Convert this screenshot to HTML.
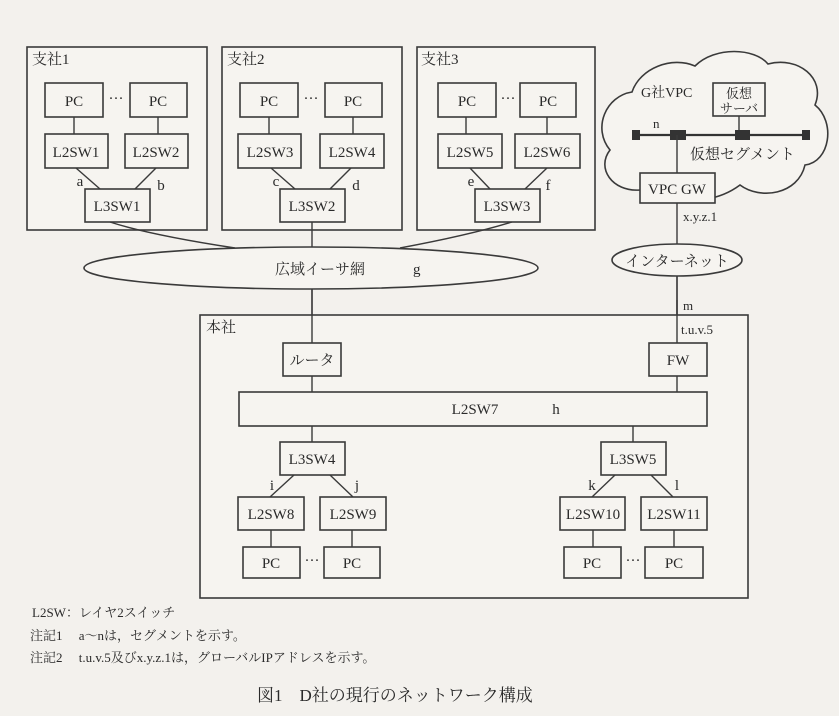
<!DOCTYPE html>
<html><head><meta charset="utf-8"><style>
html,body{margin:0;padding:0;background:#f3f1ed;}
svg{display:block}
text{font-family:"Liberation Serif","Noto Serif CJK SC","Noto Sans CJK JP",serif;fill:#2a2a2a;}
.b{fill:#f6f4f0;stroke:#3a3a3a;stroke-width:1.6}
.l{stroke:#3a3a3a;stroke-width:1.4;fill:none}
</style></head><body>
<svg width="839" height="716" viewBox="0 0 839 716" xmlns="http://www.w3.org/2000/svg">
<rect width="839" height="716" fill="#f3f1ed"/>
<g font-size="15">
<rect class="b" x="27" y="47" width="180" height="183"/>
<rect class="b" x="222" y="47" width="180" height="183"/>
<rect class="b" x="417" y="47" width="178" height="183"/>
<text x="32" y="64">支社1</text><text x="227" y="64">支社2</text><text x="421" y="64">支社3</text>
</g>
<g font-size="15" text-anchor="middle">
<line class="l" x1="74" y1="117" x2="74" y2="134"/><line class="l" x1="158" y1="117" x2="158" y2="134"/>
<line class="l" x1="76" y1="168" x2="100" y2="189"/><line class="l" x1="156" y1="168" x2="135" y2="189"/>
<rect class="b" x="45" y="83" width="58" height="34"/><text x="74" y="106">PC</text>
<rect class="b" x="130" y="83" width="57" height="34"/><text x="158" y="106">PC</text>
<text x="116" y="103">···</text>
<rect class="b" x="45" y="134" width="63" height="34"/><text x="76" y="157">L2SW1</text>
<rect class="b" x="125" y="134" width="63" height="34"/><text x="156" y="157">L2SW2</text>
<rect class="b" x="85" y="189" width="65" height="33"/><text x="117" y="211">L3SW1</text>
<text x="80" y="186">a</text><text x="161" y="190">b</text>
<line class="l" x1="269" y1="117" x2="269" y2="134"/><line class="l" x1="353" y1="117" x2="353" y2="134"/>
<line class="l" x1="271" y1="168" x2="295" y2="189"/><line class="l" x1="351" y1="168" x2="330" y2="189"/>
<rect class="b" x="240" y="83" width="58" height="34"/><text x="269" y="106">PC</text>
<rect class="b" x="325" y="83" width="57" height="34"/><text x="353" y="106">PC</text>
<text x="311" y="103">···</text>
<rect class="b" x="238" y="134" width="63" height="34"/><text x="270" y="157">L2SW3</text>
<rect class="b" x="320" y="134" width="64" height="34"/><text x="352" y="157">L2SW4</text>
<rect class="b" x="280" y="189" width="65" height="33"/><text x="312" y="211">L3SW2</text>
<text x="276" y="186">c</text><text x="356" y="190">d</text>
<line class="l" x1="466" y1="117" x2="466" y2="134"/><line class="l" x1="547" y1="117" x2="547" y2="134"/>
<line class="l" x1="470" y1="168" x2="490" y2="189"/><line class="l" x1="547" y1="168" x2="525" y2="189"/>
<rect class="b" x="438" y="83" width="58" height="34"/><text x="467" y="106">PC</text>
<rect class="b" x="520" y="83" width="56" height="34"/><text x="548" y="106">PC</text>
<text x="508" y="103">···</text>
<rect class="b" x="438" y="134" width="64" height="34"/><text x="470" y="157">L2SW5</text>
<rect class="b" x="515" y="134" width="65" height="34"/><text x="547" y="157">L2SW6</text>
<rect class="b" x="475" y="189" width="65" height="33"/><text x="507" y="211">L3SW3</text>
<text x="471" y="186">e</text><text x="548" y="190">f</text>
</g>
<path class="l" d="M110 222 Q150 235 235 248"/>
<line class="l" x1="312" y1="222" x2="312" y2="248"/>
<path class="l" d="M512 222 Q470 235 400 248"/>
<ellipse class="b" cx="311" cy="268" rx="227" ry="21"/>
<text x="320" y="274" font-size="15" text-anchor="middle">広域イーサ網</text>
<text x="413" y="274" font-size="15">g</text>
<line class="l" x1="312" y1="289" x2="312" y2="343"/>
<path class="b" d="M640 190 C612 192 596 168 610 150 C592 128 606 96 632 92 C640 68 672 56 695 66 C715 46 755 48 768 64 C798 56 826 78 815 105 C836 122 830 162 805 165 C798 195 760 200 740 185 C720 200 690 205 668 195 C660 195 648 195 640 190 Z"/>
<text x="641" y="97" font-size="14">G社VPC</text>
<rect class="b" x="713" y="83" width="52" height="33"/>
<text x="739" y="98" font-size="13" text-anchor="middle">仮想</text>
<text x="739" y="113" font-size="13" text-anchor="middle">サーバ</text>
<line class="l" x1="739" y1="116" x2="739" y2="135"/>
<line x1="636" y1="135" x2="806" y2="135" stroke="#333" stroke-width="2.2"/>
<rect x="632" y="130" width="8" height="10" fill="#333"/>
<rect x="670" y="130" width="16" height="10" fill="#333"/>
<rect x="735" y="130" width="15" height="10" fill="#333"/>
<rect x="802" y="130" width="8" height="10" fill="#333"/>
<text x="653" y="128" font-size="13">n</text>
<text x="690" y="159" font-size="15">仮想セグメント</text>
<line class="l" x1="677" y1="135" x2="677" y2="345"/>
<rect class="b" x="640" y="173" width="75" height="30"/>
<text x="677" y="194" font-size="15" text-anchor="middle">VPC GW</text>
<text x="683" y="221" font-size="13">x.y.z.1</text>
<ellipse class="b" cx="677" cy="260" rx="65" ry="16"/>
<text x="677" y="266" font-size="15" text-anchor="middle">インターネット</text>
<line class="l" x1="677" y1="276" x2="677" y2="345"/>
<text x="683" y="310" font-size="13">m</text>
<rect class="b" x="200" y="315" width="548" height="283" fill="none"/>
<line class="l" x1="312" y1="289" x2="312" y2="343"/>
<line class="l" x1="677" y1="300" x2="677" y2="343"/>
<text x="206" y="332" font-size="15">本社</text>
<text x="681" y="334" font-size="13">t.u.v.5</text>
<g font-size="15" text-anchor="middle">
<line class="l" x1="312" y1="376" x2="312" y2="392"/><line class="l" x1="677" y1="376" x2="677" y2="392"/>
<rect class="b" x="283" y="343" width="58" height="33"/><text x="312" y="365">ルータ</text>
<rect class="b" x="649" y="343" width="58" height="33"/><text x="678" y="365">FW</text>
<rect class="b" x="239" y="392" width="468" height="34"/><text x="475" y="414">L2SW7</text><text x="556" y="414">h</text>
<line class="l" x1="312" y1="426" x2="312" y2="442"/><line class="l" x1="633" y1="426" x2="633" y2="442"/>
<rect class="b" x="280" y="442" width="65" height="33"/><text x="312" y="464">L3SW4</text>
<rect class="b" x="601" y="442" width="65" height="33"/><text x="633" y="464">L3SW5</text>
<line class="l" x1="294" y1="475" x2="270" y2="497"/><line class="l" x1="330" y1="475" x2="353" y2="497"/>
<line class="l" x1="615" y1="475" x2="592" y2="497"/><line class="l" x1="651" y1="475" x2="673" y2="497"/>
<text x="272" y="490">i</text><text x="357" y="490">j</text><text x="592" y="490">k</text><text x="677" y="490">l</text>
<rect class="b" x="238" y="497" width="66" height="33"/><text x="271" y="519">L2SW8</text>
<rect class="b" x="320" y="497" width="66" height="33"/><text x="353" y="519">L2SW9</text>
<rect class="b" x="560" y="497" width="65" height="33"/><text x="593" y="519">L2SW10</text>
<rect class="b" x="641" y="497" width="66" height="33"/><text x="674" y="519">L2SW11</text>
<line class="l" x1="271" y1="530" x2="271" y2="547"/><line class="l" x1="352" y1="530" x2="352" y2="547"/>
<line class="l" x1="593" y1="530" x2="593" y2="547"/><line class="l" x1="674" y1="530" x2="674" y2="547"/>
<rect class="b" x="243" y="547" width="57" height="31"/><text x="271" y="568">PC</text>
<rect class="b" x="324" y="547" width="56" height="31"/><text x="352" y="568">PC</text>
<rect class="b" x="564" y="547" width="57" height="31"/><text x="592" y="568">PC</text>
<rect class="b" x="645" y="547" width="58" height="31"/><text x="674" y="568">PC</text>
<text x="312" y="565">···</text><text x="633" y="565">···</text>
</g>
<g font-size="13">
<text x="32" y="617">L2SW：レイヤ2スイッチ</text>
<text x="30" y="640">注記1　 a～nは，セグメントを示す。</text>
<text x="30" y="662">注記2　 t.u.v.5及びx.y.z.1は，グローバルIPアドレスを示す。</text>
</g>
<text x="257" y="701" font-size="17" font-family="'Liberation Sans','Noto Sans CJK JP',sans-serif">図1　D社の現行のネットワーク構成</text>
</svg>
</body></html>
